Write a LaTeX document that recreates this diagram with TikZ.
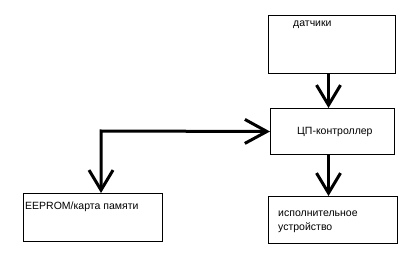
\documentclass[tikz,border=0pt]{standalone}
\usepackage{fontspec}
\setmainfont{Liberation Sans}
\usetikzlibrary{arrows.meta}
\begin{document}
\begin{tikzpicture}[x=1pt,y=-1pt,
  box/.style={draw=black,line width=1pt,minimum width=#1,anchor=north west,inner sep=0pt},
  lbl/.style={anchor=west,inner sep=0pt,font=\fontsize{10.5}{14}\selectfont,align=left},
  arr/.style={line width=3pt,-{Straight Barb[length=20pt,width=24pt,line width=3pt]}},
  darr/.style={line width=3pt,{Straight Barb[length=20pt,width=24pt,line width=3pt]}-{Straight Barb[length=22pt,width=24pt,line width=3pt]}}]
\fill[white] (0,0) rectangle (403,256);
\useasboundingbox (0,0) rectangle (403,256);
\node[box=127pt,minimum height=58pt] (dat) at (268,15) {};
\node[box=124pt,minimum height=46pt] (cpu) at (270,108) {};
\node[box=129pt,minimum height=47pt] (act) at (268,196) {};
\node[box=139pt,minimum height=48pt] (mem) at (23,193) {};
\node[lbl] (tdat) at (293,25) {датчики};
\node[lbl] (tcpu) at (297,132) {ЦП-контроллер};
\node[lbl] (tmem) at (25,207) {EEPROM/карта памяти};
\node[lbl] (tact) at (278,222) {исполнительное\\устройство};
\coordinate (corner) at (101,131);
\draw[arr] ([xshift=-3.5pt]dat.south) -- ([xshift=-3.5pt]dat.south |- cpu.north);
\draw[arr] ([xshift=-4pt]cpu.south) -- ([xshift=-4pt]cpu.south |- act.north);
\draw[darr,line join=miter] (mem.north -| corner) -- (corner) -- (cpu.west);
\end{tikzpicture}
\end{document}
